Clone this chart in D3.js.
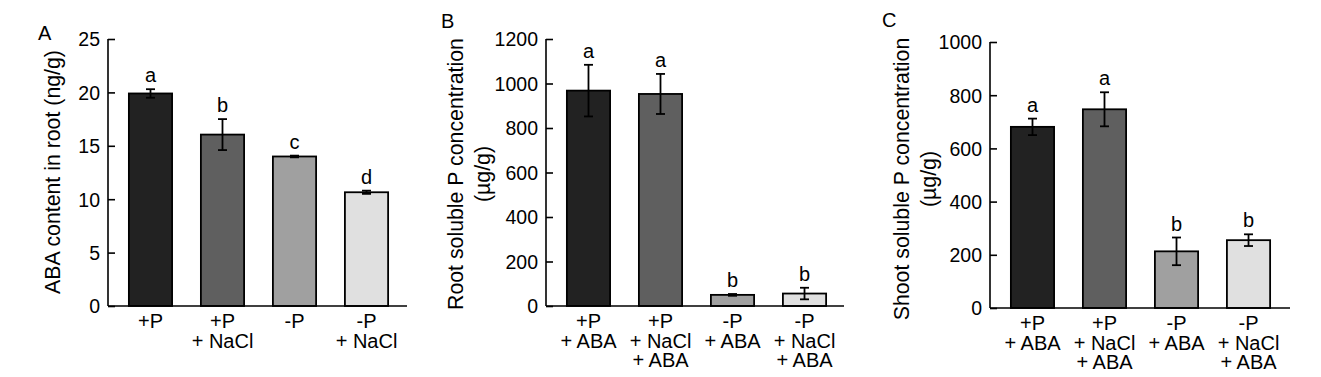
<!DOCTYPE html>
<html>
<head>
<meta charset="utf-8">
<script src="https://cdn.jsdelivr.net/npm/d3@7"></script>
<style>
  body { margin: 0; background: #fff; }
  svg text { font-family: "Liberation Sans", Arial, sans-serif; fill: #000; }
</style>
</head>
<body>
<div id="chart"></div>
<script>
// values
const groupsA = [["+P"], ["+P", "+ NaCl"], ["-P"], ["-P", "+ NaCl"]];
const groupsBC = [["+P", "+ ABA"], ["+P", "+ NaCl", "+ ABA"], ["-P", "+ ABA"], ["-P", "+ NaCl", "+ ABA"]];
const barColors = ["#222222", "#5f5f5f", "#a0a0a0", "#e0e0e0"];

const abaRoot = [19.9, 16.05, 14.0, 10.65];
const abaRootErr = [0.4, 1.45, 0.08, 0.15];
const abaRootLetters = ["a", "b", "c", "d"];
const abaTicks = [0, 5, 10, 15, 20, 25];

const rootP = [968, 953, 50, 56];
const rootPErr = [116, 90, 4, 26];
const rootPLetters = ["a", "a", "b", "b"];
const rootPTicks = [0, 200, 400, 600, 800, 1000, 1200];

const shootP = [681, 747, 213, 255];
const shootPErr = [31, 64, 52, 22];
const shootPLetters = ["a", "a", "b", "b"];
const shootPTicks = [0, 200, 400, 600, 800, 1000];

const svg = d3.select("#chart").append("svg")
    .attr("width", 1321)
    .attr("height", 377);

function drawPanel(p) {
    let g = svg.append("g");

    let y = d3.scaleLinear().domain([0, p.max]).range([p.y0, p.yTop]);
    let x = d3.scaleBand()
        .domain(d3.range(p.values.length))
        .range([p.left, p.left + 301])
        .paddingInner(0.4)
        .paddingOuter(0.29);

    // y axis, ticks pointing inward
    let yAxis = d3.axisRight(y).tickValues(p.ticks).tickSize(7).tickFormat(d3.format("d"));
    let ya = g.append("g").attr("transform", `translate(${p.left},0)`).call(yAxis);
    ya.select(".domain").attr("d", `M0,${p.yTop}V${p.y0}`).attr("stroke-width", 1.6);
    ya.selectAll(".tick line").attr("stroke-width", 1.6);
    ya.selectAll(".tick text")
        .attr("x", -8)
        .attr("text-anchor", "end")
        .attr("dy", "0.35em")
        .style("font-size", "19.5px");

    // bars
    g.selectAll("rect.bar")
        .data(p.values)
        .enter().append("rect")
        .attr("class", "bar")
        .attr("x", (d, i) => x(i))
        .attr("y", d => y(d))
        .attr("width", x.bandwidth())
        .attr("height", d => p.y0 - y(d))
        .attr("fill", (d, i) => barColors[i])
        .attr("stroke", "#000")
        .attr("stroke-width", 1.8);

    // x axis line (drawn over bar bottoms)
    g.append("line")
        .attr("x1", p.left).attr("x2", p.right)
        .attr("y1", p.y0).attr("y2", p.y0)
        .attr("stroke", "#000").attr("stroke-width", 1.6);

    // error bars
    let eb = g.selectAll("g.err")
        .data(p.values)
        .enter().append("g")
        .attr("class", "err")
        .attr("stroke", "#000")
        .attr("stroke-width", 1.8);
    let cx = i => x(i) + x.bandwidth() / 2;
    eb.append("line")
        .attr("x1", (d, i) => cx(i)).attr("x2", (d, i) => cx(i))
        .attr("y1", (d, i) => y(d + p.err[i])).attr("y2", (d, i) => y(d - p.err[i]));
    eb.append("line")
        .attr("x1", (d, i) => cx(i) - 4.5).attr("x2", (d, i) => cx(i) + 4.5)
        .attr("y1", (d, i) => y(d + p.err[i])).attr("y2", (d, i) => y(d + p.err[i]));
    eb.append("line")
        .attr("x1", (d, i) => cx(i) - 4.5).attr("x2", (d, i) => cx(i) + 4.5)
        .attr("y1", (d, i) => y(d - p.err[i])).attr("y2", (d, i) => y(d - p.err[i]));

    // significance letters
    g.selectAll("text.sig")
        .data(p.values)
        .enter().append("text")
        .attr("class", "sig")
        .attr("x", (d, i) => cx(i))
        .attr("y", (d, i) => y(d + p.err[i]) - 7)
        .attr("text-anchor", "middle")
        .style("font-size", "20px")
        .text((d, i) => p.letters[i]);

    // category labels
    p.groups.forEach(function(lines, i) {
        let t = g.append("text")
            .attr("text-anchor", "middle")
            .style("font-size", "20px");
        lines.forEach(function(l, k) {
            t.append("tspan")
                .attr("x", cx(i))
                .attr("y", p.y0 + 22 + k * 19.5)
                .text(l);
        });
    });

    // y title
    let title = g.append("text")
        .attr("transform", `translate(${p.titleX},${p.titleY}) rotate(-90)`)
        .attr("text-anchor", "middle")
        .style("font-size", "21.3px");
    p.title.forEach(function(l, k) {
        title.append("tspan")
            .attr("x", 0)
            .attr("y", k * 27)
            .text(l);
    });

    // panel letter
    g.append("text")
        .attr("x", p.tagX).attr("y", p.tagY)
        .style("font-size", "20px")
        .text(p.tag);
}

drawPanel({
    tag: "A", tagX: 38, tagY: 40,
    left: 108, right: 407, y0: 306, yTop: 39, max: 25,
    ticks: abaTicks, values: abaRoot, err: abaRootErr, letters: abaRootLetters,
    groups: groupsA,
    title: ["ABA content in root (ng/g)"], titleX: 60, titleY: 172
});

drawPanel({
    tag: "B", tagX: 441, tagY: 28,
    left: 546, right: 844, y0: 306, yTop: 39, max: 1200,
    ticks: rootPTicks, values: rootP, err: rootPErr, letters: rootPLetters,
    groups: groupsBC,
    title: ["Root soluble P concentration", "(µg/g)"], titleX: 463, titleY: 174
});

drawPanel({
    tag: "C", tagX: 882, tagY: 27,
    left: 990, right: 1290, y0: 308, yTop: 42, max: 1000,
    ticks: shootPTicks, values: shootP, err: shootPErr, letters: shootPLetters,
    groups: groupsBC,
    title: ["Shoot soluble P concentration", "(µg/g)"], titleX: 909, titleY: 179
});
</script>
</body>
</html>
